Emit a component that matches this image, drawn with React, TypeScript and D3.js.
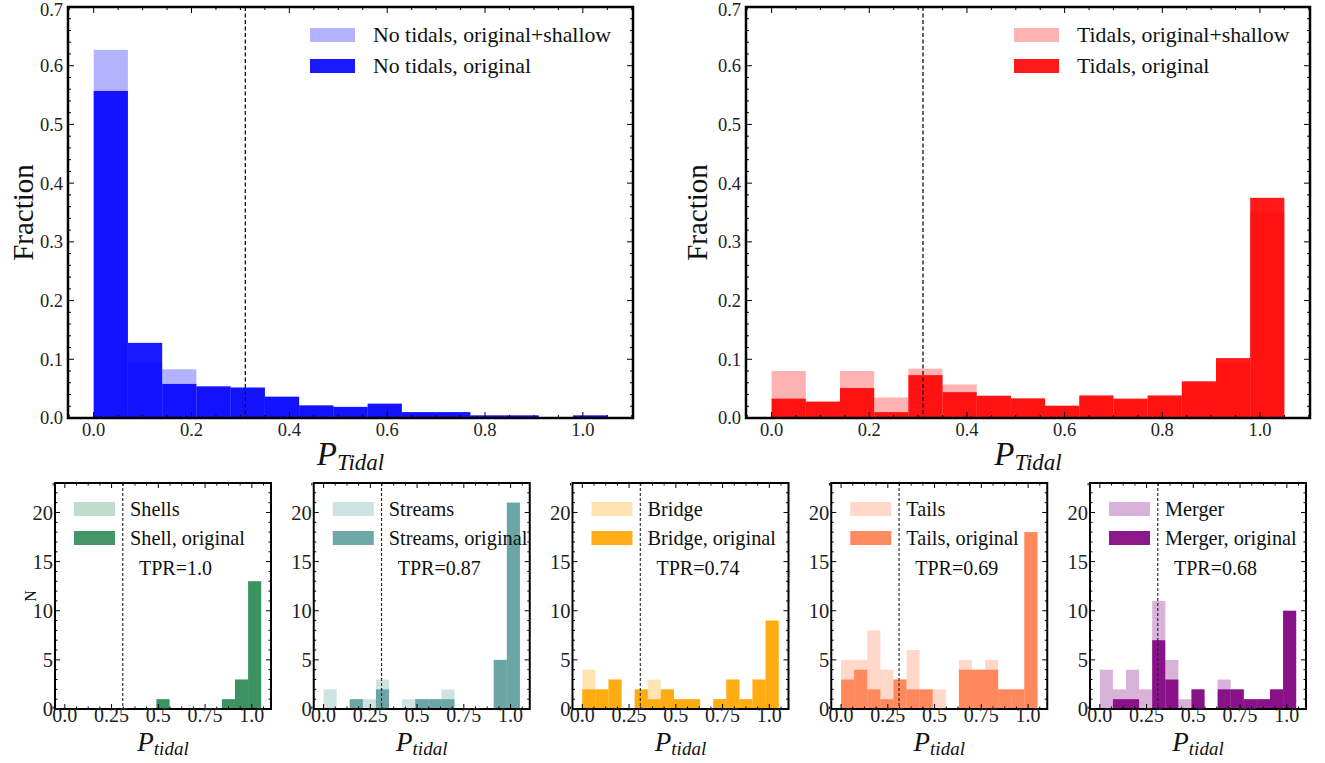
import React from 'react';
import * as d3 from 'd3';

// ---------- data ----------
const binEdges = [0, 0.07, 0.14, 0.21, 0.28, 0.35, 0.42, 0.49, 0.56, 0.63, 0.7, 0.77, 0.84, 0.91, 0.98, 1.05];

const noTidalShallow = [0.627, 0.095, 0.083, 0.052, 0.05, 0.037, 0.021, 0.018, 0.023, 0.01, 0.01, 0.004, 0.004, 0.0015, 0.004];
const noTidalOrig = [0.557, 0.128, 0.058, 0.054, 0.052, 0.036, 0.0215, 0.019, 0.0245, 0.01, 0.01, 0.0045, 0.0045, 0.0017, 0.0045];

const tidalShallow = [0.08, 0.027, 0.08, 0.035, 0.084, 0.057, 0.036, 0.032, 0.02, 0.036, 0.031, 0.036, 0.058, 0.095, 0.35];
const tidalOrig = [0.033, 0.028, 0.051, 0.01, 0.073, 0.044, 0.038, 0.0335, 0.021, 0.0385, 0.033, 0.0385, 0.0625, 0.102, 0.375];

const shellsAll = [0, 0, 0, 0, 0, 0, 0, 1, 0, 0, 0, 0, 1, 3, 13];
const shellsOrig = [0, 0, 0, 0, 0, 0, 0, 1, 0, 0, 0, 0, 1, 3, 13];
const streamsAll = [2, 0, 1, 1, 3, 0, 1, 1, 1, 2, 0, 0, 0, 5, 21];
const streamsOrig = [0, 0, 1, 0, 2, 0, 0, 1, 1, 1, 0, 0, 0, 5, 21];
const bridgeAll = [4, 2, 3, 0, 2, 3, 2, 1, 1, 0, 1, 3, 1, 3, 9];
const bridgeOrig = [2, 2, 3, 0, 2, 1, 2, 1, 1, 0, 1, 3, 1, 3, 9];
const tailsAll = [5, 5, 8, 4, 3, 6, 2, 2, 0, 5, 4, 5, 2, 2, 18];
const tailsOrig = [3, 4, 2, 1, 3, 2, 2, 0, 0, 4, 4, 4, 2, 2, 18];
const mergerAll = [4, 2, 4, 2, 11, 5, 1, 2, 0, 3, 2, 1, 1, 2, 10];
const mergerOrig = [0, 1, 1, 0, 7, 3, 0, 2, 0, 2, 2, 1, 1, 2, 10];

const topXTicks = [0, 0.2, 0.4, 0.6, 0.8, 1.0];
const topYTicks = [0, 0.1, 0.2, 0.3, 0.4, 0.5, 0.6, 0.7];
const botXTicks = [0, 0.25, 0.5, 0.75, 1.0];
const botXTickLabels = ['0.0', '0.25', '0.5', '0.75', '1.0'];
const botYTicks = [0, 5, 10, 15, 20];

const threshold = 0.31;

const topPanels = [
  { light: noTidalShallow, dark: noTidalOrig, color: '#0000ff', labels: ['No tidals, original+shallow', 'No tidals, original'], legendX: 242 },
  { light: tidalShallow, dark: tidalOrig, color: '#ff0000', labels: ['Tidals, original+shallow', 'Tidals, original'], legendX: 268 },
];

const bottomPanels = [
  { light: shellsAll, dark: shellsOrig, color: '#2e8b57', labels: ['Shells', 'Shell, original'], tpr: 'TPR=1.0' },
  { light: streamsAll, dark: streamsOrig, color: '#5f9ea0', labels: ['Streams', 'Streams, original'], tpr: 'TPR=0.87' },
  { light: bridgeAll, dark: bridgeOrig, color: '#ffa500', labels: ['Bridge', 'Bridge, original'], tpr: 'TPR=0.74' },
  { light: tailsAll, dark: tailsOrig, color: '#ff7f50', labels: ['Tails', 'Tails, original'], tpr: 'TPR=0.69' },
  { light: mergerAll, dark: mergerOrig, color: '#800080', labels: ['Merger', 'Merger, original'], tpr: 'TPR=0.68' },
];

const FONT = '"Liberation Serif", "DejaVu Serif", "Times New Roman", serif';
const X_DOMAIN: [number, number] = [-0.0525, 1.1025];

function Bars({ x, y, values, color, opacity }: any) {
  return (
    <g>
      {values.map((v: number, i: number) =>
        v > 0 ? (
          <rect
            key={i}
            x={x(binEdges[i])}
            y={y(v)}
            width={x(binEdges[i + 1]) - x(binEdges[i])}
            height={y(0) - y(v)}
            fill={color}
            fillOpacity={opacity}
          />
        ) : null
      )}
    </g>
  );
}

function Ticks({ x, y, xMajor, yMajor, xMinor, yMinor, left, right, top, bottom, majLen, minLen }: any) {
  const lines: any[] = [];
  const add = (x1: number, y1: number, x2: number, y2: number, k: string) =>
    lines.push(<line key={k} x1={x1} y1={y1} x2={x2} y2={y2} stroke="#000" strokeWidth={1} />);
  xMajor.forEach((t: number, i: number) => {
    const px = x(t);
    add(px, bottom, px, bottom - majLen, 'xb' + i);
    add(px, top, px, top + majLen, 'xt' + i);
  });
  xMinor.forEach((t: number, i: number) => {
    const px = x(t);
    add(px, bottom, px, bottom - minLen, 'xbm' + i);
    add(px, top, px, top + minLen, 'xtm' + i);
  });
  yMajor.forEach((t: number, i: number) => {
    const py = y(t);
    add(left, py, left + majLen, py, 'yl' + i);
    add(right, py, right - majLen, py, 'yr' + i);
  });
  yMinor.forEach((t: number, i: number) => {
    const py = y(t);
    add(left, py, left + minLen, py, 'ylm' + i);
    add(right, py, right - minLen, py, 'yrm' + i);
  });
  return <g>{lines}</g>;
}

function TopPanel({ p, left, right, top, bottom, ylabelX }: any) {
  const x = d3.scaleLinear().domain(X_DOMAIN).range([left, right]);
  const y = d3.scaleLinear().domain([0, 0.7]).range([bottom, top]);
  const xMinor = d3.range(-0.05, 1.1001, 0.05).filter((t) => topXTicks.every((m) => Math.abs(m - t) > 1e-6));
  const yMinor = d3.range(0, 0.7001, 0.02).filter((t) => topYTicks.every((m) => Math.abs(m - t) > 1e-6));
  const lx = left + p.legendX;
  return (
    <g>
      <Bars x={x} y={y} values={p.light} color={p.color} opacity={0.3} />
      <Bars x={x} y={y} values={p.dark} color={p.color} opacity={0.9} />
      <line x1={x(threshold)} x2={x(threshold)} y1={top} y2={bottom} stroke="#111" strokeWidth={1.3} strokeDasharray="4,2.5" />
      <Ticks x={x} y={y} xMajor={topXTicks} yMajor={topYTicks} xMinor={xMinor} yMinor={yMinor}
        left={left} right={right} top={top} bottom={bottom} majLen={6} minLen={3} />
      <rect x={left} y={top} width={right - left} height={bottom - top} fill="none" stroke="#000" strokeWidth={2.5} />
      {topXTicks.map((t, i) => (
        <text key={'xl' + i} x={x(t)} y={bottom + 18} textAnchor="middle" fontSize={18.5} fontFamily={FONT} fill="#222">
          {t.toFixed(1)}
        </text>
      ))}
      {topYTicks.map((t, i) => (
        <text key={'yl' + i} x={left - 5} y={Math.max(y(t), 10)} dy="0.35em" textAnchor="end" fontSize={18.5} fontFamily={FONT} fill="#222">
          {t.toFixed(1)}
        </text>
      ))}
      <text x={(left + right) / 2} y={bottom + 47} textAnchor="middle" fontFamily={FONT} fill="#111">
        <tspan fontStyle="italic" fontSize={33}>P</tspan>
        <tspan fontStyle="italic" fontSize={23} dy={5}>Tidal</tspan>
      </text>
      <text transform={`translate(${ylabelX},${(top + bottom) / 2}) rotate(-90)`} textAnchor="middle" dy="0.35em"
        fontSize={29} fontFamily={FONT} fill="#111">
        Fraction
      </text>
      <rect x={lx} y={28} width={45} height={14} fill={p.color} fillOpacity={0.3} />
      <rect x={lx} y={59} width={45} height={14} fill={p.color} fillOpacity={0.9} />
      <text x={lx + 63} y={41.5} fontSize={21.8} fontFamily={FONT} fill="#111">{p.labels[0]}</text>
      <text x={lx + 63} y={72.5} fontSize={21.8} fontFamily={FONT} fill="#111">{p.labels[1]}</text>
    </g>
  );
}

function BottomPanel({ p, left, width, top, bottom, showYLabel }: any) {
  const right = left + width;
  const x = d3.scaleLinear().domain(X_DOMAIN).range([left, right]);
  const y = d3.scaleLinear().domain([0, 23]).range([bottom, top]);
  const xMinor = d3.range(-0.0625, 1.1001, 0.0625).filter((t) => botXTicks.every((m) => Math.abs(m - t) > 1e-6));
  const yMinor = d3.range(0, 23.001, 1).filter((t) => botYTicks.every((m) => Math.abs(m - t) > 1e-6));
  return (
    <g>
      <Bars x={x} y={y} values={p.light} color={p.color} opacity={0.3} />
      <Bars x={x} y={y} values={p.dark} color={p.color} opacity={0.9} />
      <line x1={x(threshold)} x2={x(threshold)} y1={top} y2={bottom} stroke="#222" strokeWidth={1.1} strokeDasharray="3,2" />
      <Ticks x={x} y={y} xMajor={botXTicks} yMajor={botYTicks} xMinor={xMinor} yMinor={yMinor}
        left={left} right={right} top={top} bottom={bottom} majLen={5} minLen={2.5} />
      <rect x={left} y={top} width={width} height={bottom - top} fill="none" stroke="#000" strokeWidth={2} />
      {botXTicks.map((t, i) => (
        <text key={'xl' + i} x={x(t)} y={bottom + 13} textAnchor="middle" fontSize={20} fontFamily={FONT} fill="#222">
          {botXTickLabels[i]}
        </text>
      ))}
      {botYTicks.map((t, i) => (
        <text key={'yl' + i} x={left - 2} y={y(t)} dy="0.35em" textAnchor="end" fontSize={20.5} fontFamily={FONT} fill="#222">
          {t}
        </text>
      ))}
      <text x={(left + right) / 2} y={bottom + 42} textAnchor="middle" fontFamily={FONT} fill="#111">
        <tspan fontStyle="italic" fontSize={27}>P</tspan>
        <tspan fontStyle="italic" fontSize={19} dy={4}>tidal</tspan>
      </text>
      {showYLabel && (
        <text transform={`translate(30,${(top + bottom) / 2}) rotate(-90)`} textAnchor="middle" dy="0.35em"
          fontSize={16} fontFamily={FONT} fill="#111">
          N
        </text>
      )}
      <rect x={left + 19} y={502} width={41} height={14} fill={p.color} fillOpacity={0.3} />
      <rect x={left + 19} y={531} width={41} height={14} fill={p.color} fillOpacity={0.9} />
      <text x={left + 75} y={515.5} fontSize={20.3} fontFamily={FONT} fill="#111">{p.labels[0]}</text>
      <text x={left + 75} y={544.5} fontSize={20.3} fontFamily={FONT} fill="#111">{p.labels[1]}</text>
      <text x={left + 84} y={575} fontSize={20} fontFamily={FONT} fill="#111">{p.tpr}</text>
    </g>
  );
}

export default function App() {
  const botLefts = [55, 313.75, 572.5, 831.25, 1090];
  return (
    <svg width={1325} height={763} style={{ position: 'absolute', left: 0, top: 0, background: '#fff' }}>
      <rect x={0} y={0} width={1325} height={763} fill="#fff" />
      <TopPanel p={topPanels[0]} left={68} right={633} top={7} bottom={418} ylabelX={23} />
      <TopPanel p={topPanels[1]} left={746} right={1310} top={7} bottom={418} ylabelX={697} />
      {bottomPanels.map((p, i) => (
        <BottomPanel key={i} p={p} left={botLefts[i]} width={216} top={483} bottom={709} showYLabel={i === 0} />
      ))}
    </svg>
  );
}
